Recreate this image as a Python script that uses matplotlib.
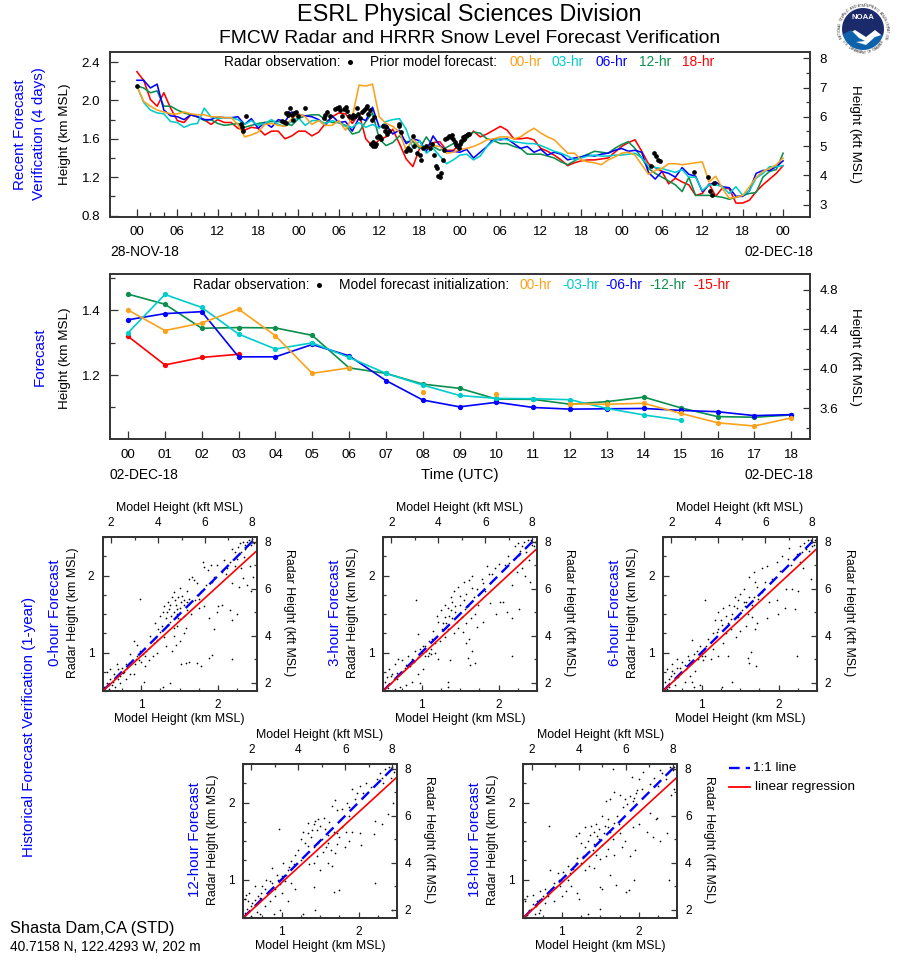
"""FMCW radar and HRRR snow level verification page (Shasta Dam)."""

import numpy as np
import matplotlib
matplotlib.use("Agg")
import matplotlib.pyplot as plt
from matplotlib.patches import Circle, Polygon
from matplotlib.ticker import MultipleLocator, FixedLocator

plt.rcParams["font.family"] = ["Liberation Sans", "DejaVu Sans"]

KM_TO_KFT = 1 / 0.3048
ORANGE, CYAN, BLUE, GREEN, RED = "#FAA21B", "#00CCCC", "#0000FF", "#0B8F4D", "#FF0000"
FRAME = "#333333"

# Recent verification, hourly values (km MSL) over 96 hours
recent_00 = [2.15, 1.99, 1.94, 1.90, 1.88, 1.86, 1.86, 1.88, 1.86, 1.85, 1.85, 1.83,
             1.83, 1.82, 1.82, 1.75, 1.62, 1.64, 1.67, 1.75, 1.76, 1.74, 1.73, 1.81,
             1.86, 1.83, 1.75, 1.79, 1.74, 1.74, 1.79, 1.69, 1.83, 2.16, 2.15, 2.17,
             1.83, 1.76, 1.73, 1.67, 1.48, 1.60, 1.52, 1.50, 1.53, 1.52, 1.45, 1.46,
             1.49, 1.50, 1.52, 1.55, 1.59, 1.60, 1.62, 1.62, 1.60, 1.62, 1.67, 1.71,
             1.66, 1.62, 1.59, 1.52, 1.45, 1.45, 1.38, 1.36, 1.35, 1.33, 1.38, 1.41,
             1.45, 1.46, 1.43, 1.33, 1.23, 1.27, 1.29, 1.34, 1.34, 1.33, 1.34, 1.35,
             1.36, 1.15, 1.21, 1.08, 0.98, 0.99, 1.01, 1.10, 1.20, 1.26, 1.29, 1.33, 1.40]
recent_03 = [2.15, 1.98, 1.90, 1.87, 1.86, 1.78, 1.77, 1.72, 1.75, 1.76, 1.92, 1.83,
             1.81, 1.82, 1.82, 1.80, 1.75, 1.79, 1.74, 1.76, 1.80, 1.75, 1.73, 1.78,
             1.82, 1.74, 1.79, 1.79, 1.76, 1.79, 1.77, 1.73, 1.72, 1.77, 1.72, 1.75,
             1.71, 1.78, 1.80, 1.81, 1.70, 1.50, 1.58, 1.45, 1.50, 1.42, 1.34, 1.38,
             1.43, 1.44, 1.38, 1.42, 1.52, 1.58, 1.60, 1.59, 1.57, 1.56, 1.55, 1.55,
             1.53, 1.50, 1.47, 1.45, 1.42, 1.38, 1.40, 1.42, 1.43, 1.42, 1.42, 1.43,
             1.43, 1.44, 1.45, 1.40, 1.32, 1.30, 1.29, 1.27, 1.25, 1.28, 1.20, 1.20,
             1.06, 1.12, 1.12, 1.10, 1.03, 1.10, 1.01, 1.06, 1.19, 1.24, 1.31, 1.31, 1.32]
recent_06 = [2.21, 2.21, 2.13, 2.17, 1.90, 1.84, 1.83, 1.80, 1.85, 1.83, 1.80, 1.80,
             1.83, 1.82, 1.82, 1.83, 1.75, 1.81, 1.71, 1.77, 1.72, 1.80, 1.78, 1.88,
             1.85, 1.84, 1.83, 1.80, 1.74, 1.84, 1.77, 1.78, 1.68, 1.82, 1.79, 1.93,
             1.72, 1.75, 1.65, 1.69, 1.55, 1.60, 1.58, 1.47, 1.63, 1.53, 1.47, 1.47,
             1.46, 1.49, 1.40, 1.46, 1.52, 1.60, 1.59, 1.60, 1.55, 1.50, 1.52, 1.46,
             1.49, 1.43, 1.46, 1.44, 1.38, 1.40, 1.41, 1.43, 1.42, 1.44, 1.45, 1.48,
             1.50, 1.47, 1.48, 1.46, 1.25, 1.18, 1.26, 1.24, 1.20, 1.30, 1.23, 1.21,
             1.05, 1.12, 1.15, 1.10, 1.09, 1.00, 1.00, 1.06, 1.24, 1.27, 1.27, 1.31, 1.37]
recent_12 = [2.15, 2.13, 2.08, 2.10, 1.94, 1.94, 1.90, 1.87, 1.85, 1.83, 1.79, 1.80,
             1.76, 1.74, 1.75, 1.76, 1.72, 1.74, 1.76, 1.77, 1.78, 1.78, 1.76, 1.74,
             1.81, 1.84, 1.85, 1.85, 1.80, 1.77, 1.77, 1.74, 1.65, 1.67, 1.78, 1.87,
             1.60, 1.53, 1.56, 1.63, 1.57, 1.57, 1.50, 1.62, 1.52, 1.48, 1.51, 1.55,
             1.52, 1.60, 1.67, 1.66, 1.60, 1.58, 1.55, 1.55, 1.52, 1.50, 1.44, 1.44,
             1.44, 1.42, 1.40, 1.36, 1.33, 1.37, 1.41, 1.44, 1.47, 1.46, 1.45, 1.50,
             1.54, 1.57, 1.50, 1.40, 1.29, 1.24, 1.20, 1.16, 1.12, 1.05, 1.20, 1.01,
             1.01, 1.01, 1.00, 0.99, 0.97, 0.99, 1.01, 1.03, 1.04, 1.20, 1.26, 1.28, 1.45]
recent_18 = [2.30, 2.21, 2.01, 1.94, 2.08, 1.92, 1.79, 1.77, 1.85, 1.83, 1.80, 1.75,
             1.80, 1.77, 1.77, 1.71, 1.69, 1.72, 1.71, 1.64, 1.68, 1.68, 1.60, 1.63,
             1.68, 1.68, 1.63, 1.67, 1.76, 1.83, 1.87, 1.86, 1.76, 1.86, 1.60, 1.52,
             1.59, 1.62, 1.70, 1.55, 1.39, 1.31, 1.50, 1.52, 1.56, 1.57, 1.48, 1.48,
             1.54, 1.60, 1.68, 1.62, 1.65, 1.69, 1.73, 1.69, 1.60, 1.60, 1.61, 1.59,
             1.50, 1.47, 1.43, 1.38, 1.32, 1.35, 1.37, 1.38, 1.38, 1.39, 1.40, 1.46,
             1.52, 1.56, 1.59, 1.47, 1.34, 1.30, 1.26, 1.13, 1.19, 1.15, 1.12, 1.01,
             1.03, 1.13, 1.00, 1.09, 1.08, 0.93, 0.93, 0.96, 1.05, 1.12, 1.18, 1.24, 1.32]

# Radar observations (hours since 00 UTC 28-NOV, km MSL)
obs_hour = [0.0, 15.5, 15.6, 15.7, 16.2, 21.5, 21.8, 22.1, 22.2, 22.4, 22.5, 22.7, 23.0, 23.2, 23.4,
            23.7, 24.0, 24.9, 27.8, 28.0, 28.2, 28.7, 29.4, 29.7, 30.0, 30.2, 30.4, 30.8, 31.0, 31.2,
            31.5, 31.9, 32.1, 32.4, 32.7, 32.9, 33.2, 33.5, 33.8, 34.0, 34.2, 34.4, 34.7, 34.9, 35.2,
            34.8, 35.0, 35.1, 35.3, 35.5, 35.6, 35.9, 36.1, 36.3, 36.5, 36.8, 37.0, 37.2, 37.4, 38.9,
            39.0, 39.2, 40.0, 40.3, 40.6, 41.0, 41.2, 41.6, 42.0, 42.2, 42.5, 43.0, 43.5, 43.8, 44.2,
            44.4, 44.6, 44.8, 45.0, 45.2, 45.4, 45.6, 45.8, 46.0, 46.3, 46.6, 46.8, 47.0, 47.2, 47.4,
            47.6, 47.8, 48.0, 48.2, 48.4, 48.6, 48.8, 49.0, 49.2, 49.4, 76.4, 76.8, 77.1, 77.4, 77.7,
            82.7, 84.9, 85.8, 85.2, 85.4]
obs_km = [2.15, 1.75, 1.72, 1.68, 1.84, 1.79, 1.78, 1.76, 1.87, 1.85, 1.87, 1.92, 1.85, 1.80, 1.87,
          1.88, 1.84, 1.92, 1.82, 1.85, 1.88, 1.84, 1.91, 1.92, 1.93, 1.90, 1.84, 1.91, 1.93, 1.89,
          1.84, 1.82, 1.85, 1.84, 1.92, 1.86, 1.82, 1.88, 1.90, 1.92, 1.94, 1.86, 1.90, 1.80, 1.83,
          1.55, 1.53, 1.57, 1.52, 1.55, 1.62, 1.63, 1.62, 1.60, 1.73, 1.68, 1.72, 1.65, 1.68, 1.75,
          1.73, 1.67, 1.47, 1.50, 1.48, 1.63, 1.52, 1.45, 1.43, 1.38, 1.50, 1.52, 1.50, 1.55, 1.43,
          1.32, 1.30, 1.21, 1.20, 1.24, 1.38, 1.48, 1.60, 1.61, 1.63, 1.62, 1.64, 1.60, 1.57, 1.54,
          1.52, 1.50, 1.55, 1.58, 1.62, 1.60, 1.63, 1.64, 1.65, 1.65, 1.32, 1.45, 1.42, 1.38, 1.37,
          1.25, 1.20, 1.14, 1.06, 1.01]
recent_hour_labels = ["00", "06", "12", "18"] * 4 + ["00"]

# 18-hour forecast panel (km MSL); nan where the run has no value
nan = float("nan")
fcst_00 = [1.400, 1.337, 1.360, 1.403, 1.321, 1.205, 1.222, nan, 1.148, nan, 1.142, nan,
           1.111, 1.110, 1.113, 1.082, 1.053, 1.043, 1.068]
fcst_03 = [1.330, 1.448, 1.408, 1.326, 1.280, 1.299, 1.254, 1.205, 1.169, 1.137, 1.128, 1.127,
           1.124, 1.097, 1.077, 1.061, nan, nan, nan]
fcst_06 = [1.370, 1.389, 1.395, 1.256, 1.256, 1.294, 1.259, 1.183, 1.123, 1.102, 1.116, 1.100,
           1.095, 1.096, 1.097, 1.091, 1.087, 1.075, 1.078]
fcst_12 = [1.449, 1.418, 1.344, 1.346, 1.345, 1.322, 1.222, 1.205, 1.172, 1.159, 1.126, 1.125,
           1.110, 1.118, 1.132, 1.099, 1.072, 1.070, 1.077]
fcst_15 = [1.319, 1.231, 1.254, 1.264]
fcst_hour_labels = [f"{h:02d}" for h in range(19)]

# Historical scatter, (model km, radar km)
pts_00 = [(.98, 1.69), (1.80, 2.18), (1.81, 2.11), (1.87, 2.07), (1.90, 2.13), (1.98, 2.14), (2.07, 2.20), (2.05, 2.05),
          (2.12, 2.10), (2.22, 2.12), (2.30, 2.10), (2.32, 1.97), (2.18, 1.90), (2.27, 1.85), (2.38, 1.88), (2.42, 1.80),
          (2.45, 1.98), (2.41, 2.12), (2.35, 2.35), (2.30, 2.30), (2.28, 2.42), (2.38, 2.44), (2.42, 2.40), (2.44, 2.47),
          (2.47, 2.42), (2.35, 2.40), (2.22, 2.30), (2.18, 2.35), (2.26, 2.37), (1.62, 1.96), (1.68, 1.94), (1.72, 1.90),
          (1.66, 1.98), (1.50, 1.84), (1.43, 1.78), (1.48, 1.72), (1.55, 1.68), (1.60, 1.80), (1.62, 1.70), (1.40, 1.72),
          (1.35, 1.66), (1.30, 1.60), (1.36, 1.56), (1.42, 1.52), (1.45, 1.62), (1.50, 1.58), (1.52, 1.66), (1.28, 1.52),
          (1.25, 1.48), (1.32, 1.45), (1.38, 1.40), (1.42, 1.32), (1.48, 1.45), (1.55, 1.48), (1.60, 1.55), (1.65, 1.50),
          (1.75, 1.58), (1.82, 1.60), (1.88, 1.45), (1.95, 1.30), (1.98, 1.52), (2.00, 1.60), (2.05, 1.62), (2.15, 1.55),
          (2.18, 1.42), (2.25, 1.50), (1.72, 1.75), (1.78, 1.80), (1.22, 1.30), (1.18, 1.38), (1.12, 1.22), (1.30, 1.20),
          (1.32, 1.08), (1.40, 1.02), (1.45, 1.10), (1.50, 1.15), (1.42, 1.22), (1.55, 1.25), (1.52, .85), (1.58, .86),
          (1.62, .88), (1.72, .87), (1.78, .83), (1.88, .93), (1.92, .97), (2.18, .92), (1.28, .55), (1.38, .60),
          (.90, 1.15), (.95, 1.10), (.98, 1.02), (.85, .98), (.88, .90), (.92, .85), (1.00, .88), (1.05, .82),
          (1.10, .90), (1.15, .95), (1.20, 1.00), (1.05, .95), (.95, .95), (.80, .85), (.75, .80), (.70, .78),
          (.68, .85), (.72, .70), (.65, .72), (.60, .65), (.62, .58), (.55, .60), (.52, .55), (.58, .52),
          (.66, .55), (.72, .60), (.80, .65), (.85, .72), (.78, .75), (.90, .72), (1.03, .62), (.56, .75), (.60, .78),
          (1.38, 1.62), (1.44, 1.68), (1.47, 1.56), (1.53, 1.74), (1.56, 1.62), (1.33, 1.52), (1.39, 1.48), (1.46, 1.50),
          (1.51, 1.44), (1.34, 1.36), (1.27, 1.34), (1.24, 1.26), (1.20, 1.16), (1.16, 1.12), (1.10, 1.06), (1.06, 1.02),
          (1.02, .98), (.97, .90), (.93, .92), (.84, .86), (.82, .80), (.76, .74), (.70, .66), (.64, .62), (.58, .58),
          (1.60, 1.66), (1.70, 1.68), (1.75, 1.70), (1.84, 1.88), (1.92, 1.92), (1.95, 1.98), (2.10, 2.02), (2.15, 2.18),
          (2.25, 2.22), (2.33, 2.24), (2.38, 2.38), (2.45, 2.44), (2.40, 2.46), (2.32, 2.44), (1.46, 1.35), (1.58, 1.32)]
pts_03 = [(.93, 1.68), (2.18, .95), (1.63, .84), (1.69, .86), (1.60, .93), (1.65, 1.02), (1.58, 1.12), (1.62, 1.18),
          (1.37, .90), (1.35, .62), (1.34, .55), (2.17, 1.45), (2.27, 1.56), (2.11, 1.53), (2.06, 1.66), (2.02, 1.66),
          (1.89, 1.64), (1.97, 1.50), (2.41, 1.92), (2.35, 2.00), (2.30, 2.10), (2.18, 1.88), (2.24, 2.05), (2.40, 2.20),
          (2.28, 2.32), (2.22, 2.38), (2.33, 2.44), (2.38, 2.46), (2.44, 2.40), (2.47, 2.44), (2.30, 2.38), (2.36, 2.30),
          (2.12, 2.25), (2.08, 2.13), (2.00, 2.15), (1.85, 2.12), (1.88, 2.02), (1.80, 1.90), (1.78, 1.96), (1.65, 2.00),
          (1.62, 1.94), (1.55, 1.92), (1.48, 1.85), (1.42, 1.80), (1.38, 1.72), (1.40, 1.65), (1.44, 1.60), (1.50, 1.74),
          (1.55, 1.68), (1.60, 1.60), (1.68, 1.72), (1.74, 1.62), (1.70, 1.50), (1.64, 1.45), (1.58, 1.38), (1.72, 1.33),
          (1.80, 1.40), (1.52, 1.46), (1.46, 1.40), (1.38, 1.55), (1.30, 1.62), (1.25, 1.55), (1.20, 1.48), (1.22, 1.40),
          (1.28, 1.38), (1.35, 1.30), (1.42, 1.25), (1.30, 1.20), (1.24, 1.15), (1.15, 1.28), (1.10, 1.15), (1.05, 1.08),
          (.95, 1.24), (1.00, 1.00), (1.08, .96), (1.12, 1.05), (1.18, 1.00), (1.22, .92), (.92, 1.02), (.88, .92),
          (.82, .95), (.75, .90), (.70, .92), (.66, .85), (.78, .80), (.85, .82), (.95, .72), (1.02, .78),
          (.62, .72), (.58, .78), (.55, .68), (.52, .62), (.60, .60), (.68, .65), (.72, .55), (.80, .58),
          (.88, .62), (.98, .60), (.56, .54), (.65, .52),
          (1.34, 1.58), (1.36, 1.48), (1.32, 1.38), (1.40, 1.45), (1.44, 1.52), (1.30, 1.46), (1.26, 1.30), (1.20, 1.22),
          (1.18, 1.12), (1.14, 1.18), (1.12, .98), (1.06, 1.02), (1.02, 1.08), (.98, 1.05), (1.04, .95), (1.10, 1.00),
          (.96, .94), (.90, .88), (.86, .88), (.80, .84), (.76, .76), (.72, .72), (.68, .74), (.64, .66), (.60, .70),
          (1.58, 1.76), (1.66, 1.84), (1.50, 1.62), (1.56, 1.56), (1.72, 1.82), (1.82, 1.80), (1.92, 2.02), (1.96, 2.10),
          (2.14, 2.16), (2.26, 2.26), (2.35, 2.36), (2.42, 2.46), (2.46, 2.38), (2.25, 2.42), (1.48, 1.32), (1.54, 1.26)]
pts_06 = [(1.05, 1.68), (2.24, .95), (1.71, .83), (1.62, .86), (1.60, .93), (1.64, 1.01), (1.40, .62), (1.26, .55),
          (.88, 1.16), (2.21, 1.56), (1.99, 1.50), (1.85, 1.45), (2.08, 1.58), (1.88, 1.65), (1.98, 1.68), (2.18, 1.82),
          (2.25, 1.80), (2.10, 1.82), (2.42, 1.96), (2.32, 2.10), (2.28, 2.18), (2.12, 2.22), (2.05, 2.25), (1.98, 2.18),
          (1.85, 2.12), (1.78, 2.10), (1.68, 2.05), (1.62, 1.98), (1.70, 1.92), (1.78, 1.78), (1.72, 1.85), (2.28, 2.38),
          (2.33, 2.42), (2.38, 2.46), (2.44, 2.38), (2.47, 2.46), (2.40, 2.32), (2.30, 2.30), (2.14, 2.36), (1.55, 1.82),
          (1.50, 1.76), (1.48, 1.68), (1.55, 1.66), (1.62, 1.72), (1.42, 1.60), (1.36, 1.62), (1.28, 1.58), (1.22, 1.52),
          (1.18, 1.42), (1.25, 1.42), (1.32, 1.48), (1.40, 1.50), (1.52, 1.55), (1.60, 1.50), (1.66, 1.46), (1.72, 1.38),
          (1.70, 1.30), (1.58, 1.35), (1.50, 1.28), (1.45, 1.20), (1.38, 1.30), (1.32, 1.25), (1.22, 1.30), (1.15, 1.25),
          (1.08, 1.18), (.98, 1.08), (1.05, 1.02), (1.15, 1.05), (1.12, .92), (1.22, .96), (1.35, .95), (1.28, 1.12),
          (1.02, .90), (.95, .92), (.90, .98), (.82, .95), (.75, .88), (.68, .92), (.62, .85), (.55, .78),
          (.72, .80), (.80, .78), (.85, .70), (.92, .76), (.88, .62), (.78, .62), (.70, .68), (.60, .70),
          (.52, .62), (.58, .55), (.66, .58), (.98, .58), (.90, .55), (.55, .52), (.64, .74), (1.00, 1.00),
          (1.44, 1.72), (1.46, 1.58), (1.38, 1.44), (1.48, 1.46), (1.56, 1.60), (1.34, 1.38), (1.27, 1.36), (1.20, 1.26),
          (1.12, 1.14), (1.06, 1.08), (1.04, .96), (1.00, .95), (.94, 1.02), (.88, .86), (.84, .90), (.78, .84), (.74, .74),
          (.68, .80), (.64, .64), (.58, .66), (.62, .76), (1.58, 1.66), (1.68, 1.72), (1.74, 1.70), (1.66, 1.62),
          (1.82, 1.92), (1.92, 1.96), (2.02, 2.06), (2.16, 2.14), (2.24, 2.28), (2.36, 2.34), (2.46, 2.40), (2.42, 2.46)]
pts_12 = [(.97, 1.66), (2.21, .95), (1.68, .84), (1.75, .86), (1.42, .90), (1.44, .61), (.88, 1.15), (2.20, 1.59),
          (2.03, 1.45), (2.43, .61), (1.70, 2.03), (1.65, 1.96), (1.72, 1.90), (1.85, 2.00), (1.92, 2.18), (1.88, 1.82),
          (2.02, 2.22), (2.10, 2.25), (1.98, 2.12), (2.24, 2.30), (2.28, 2.38), (2.35, 2.44), (2.40, 2.46), (2.46, 2.40),
          (2.42, 2.32), (2.32, 2.25), (2.38, 1.85), (2.30, 1.72), (2.22, 1.76), (2.45, 2.00), (2.02, 1.60), (1.92, 1.62),
          (1.88, 1.50), (1.82, 1.42), (1.72, 1.46), (1.75, 1.55), (1.68, 1.62), (1.62, 1.75), (1.55, 1.80), (1.48, 1.78),
          (1.42, 1.72), (1.35, 1.74), (1.28, 1.62), (1.25, 1.52), (1.30, 1.48), (1.38, 1.55), (1.46, 1.64), (1.52, 1.52),
          (1.58, 1.42), (1.64, 1.38), (1.70, 1.34), (1.60, 1.22), (1.66, 1.18), (1.50, 1.12), (1.42, 1.22), (1.36, 1.20),
          (1.25, 1.25), (1.18, 1.32), (1.12, 1.24), (1.02, 1.22), (1.08, 1.12), (1.00, 1.05), (.95, 1.00), (1.05, .98),
          (1.12, .95), (1.18, .88), (.92, .88), (.85, .98), (.80, 1.00), (.75, .92), (.70, .78), (.65, .92),
          (.58, .82), (.52, .75), (.55, .62), (.62, .70), (.68, .58), (.78, .65), (.85, .72), (.92, .78),
          (1.00, .82), (.98, .60), (.90, .55), (.72, .55), (.60, .53), (.52, .56), (1.28, .55), (1.08, .72),
          (1.40, 1.64), (1.44, 1.76), (1.34, 1.60), (1.50, 1.70), (1.56, 1.66), (1.60, 1.58), (1.48, 1.48), (1.42, 1.42),
          (1.34, 1.44), (1.22, 1.38), (1.16, 1.20), (1.10, 1.16), (1.06, 1.06), (1.02, 1.00), (.98, .94), (.94, 1.06),
          (.88, .96), (.84, .84), (.78, .88), (.74, .82), (.72, .76), (.66, .74), (.60, .66), (.56, .72), (.54, .80),
          (1.78, 1.92), (1.88, 1.94), (1.96, 2.04), (2.06, 2.12), (2.16, 2.20), (2.30, 2.32), (2.38, 2.40), (2.44, 2.46),
          (1.78, 1.68), (1.84, 1.62), (1.72, 1.60), (1.60, 1.48), (1.54, 1.36), (1.46, 1.30)]
pts_18 = [(.83, 1.69), (1.67, 2.43), (2.39, .99), (1.94, .99), (1.84, .84), (1.87, .86), (1.50, .90), (1.52, .88),
          (1.70, .93), (1.62, 1.06), (1.49, .62), (1.34, .55), (2.36, 1.60), (2.27, 1.50), (2.23, 1.80), (2.15, 1.86),
          (2.22, 1.78), (1.91, 2.33), (2.05, 2.40), (2.00, 2.30), (1.96, 2.12), (1.88, 2.08), (1.92, 2.02), (1.98, 2.16),
          (1.75, 2.10), (1.68, 2.14), (1.62, 2.05), (1.58, 2.02), (1.85, 1.98), (1.80, 1.94), (1.92, 1.68), (2.00, 1.72),
          (2.10, 1.62), (2.18, 1.55), (1.72, 1.82), (1.68, 1.74), (1.60, 1.78), (1.52, 1.82), (1.45, 1.72), (1.48, 1.65),
          (1.55, 1.60), (1.62, 1.62), (1.38, 1.70), (1.30, 1.68), (1.22, 1.60), (1.18, 1.56), (1.25, 1.48), (1.30, 1.42),
          (1.40, 1.38), (1.52, 1.45), (1.60, 1.40), (1.68, 1.32), (1.78, 1.42), (1.88, 1.30), (1.95, 1.38), (1.82, 1.50),
          (2.40, 2.46), (2.45, 2.42), (2.30, 2.38), (2.35, 2.30), (2.46, 2.18), (2.42, 2.10), (2.25, 2.22), (1.25, 1.22),
          (1.35, 1.18), (1.42, 1.15), (1.30, 1.12), (1.18, 1.22), (1.08, 1.18), (1.02, 1.10), (.95, 1.08), (1.08, 1.00),
          (1.12, .92), (1.05, .85), (.98, .92), (.90, .96), (.85, 1.12), (1.00, .78), (.90, .72), (.82, .78),
          (.78, .88), (.72, .85), (.62, .80), (.55, .78), (.52, .72), (.68, .72), (.60, .62), (.70, .56),
          (.72, .60), (.65, .55), (.55, .54), (.52, .52), (1.22, .75), (1.20, .82),
          (1.42, 1.62), (1.36, 1.58), (1.46, 1.56), (1.34, 1.50), (1.42, 1.46), (1.48, 1.52), (1.56, 1.70), (1.60, 1.68),
          (1.28, 1.30), (1.20, 1.28), (1.14, 1.14), (1.10, 1.08), (1.04, 1.04), (1.00, .98), (.96, 1.00), (.92, .90),
          (.86, .88), (.82, .84), (.76, .78), (.70, .74), (.66, .66), (.58, .60), (.62, .68), (.78, .70),
          (1.82, 2.04), (1.94, 2.06), (2.04, 2.18), (2.14, 2.24), (2.20, 2.32), (2.28, 2.42), (2.38, 2.38), (2.46, 2.46),
          (1.74, 1.72), (1.76, 1.60), (1.66, 1.52), (1.58, 1.30), (1.50, 1.26), (1.44, 1.32)]
# Right-edge height of each linear regression (km, at model 2.5 km)
reg_end_00, reg_end_03, reg_end_06, reg_end_12, reg_end_18 = 2.32, 2.35, 2.35, 2.33, 2.33

fig = plt.figure(figsize=(8.98, 9.56), dpi=100)


def box(left, top, right, bottom):
    """Axes from page pixels."""
    return fig.add_axes([left / 898, 1 - bottom / 956, (right - left) / 898, (bottom - top) / 956])


# Page layer for free text, measured in pixels from the top left
page = fig.add_axes([0, 0, 1, 1], zorder=5)
page.set_xlim(0, 898)
page.set_ylim(956, 0)
page.axis("off")


def put(x, y, s, size=10, color="black", ha="left", rotation=0):
    page.text(x, y, s, fontsize=size, color=color, ha=ha, va="center", rotation=rotation,
              rotation_mode="anchor" if rotation == 0 else "default")


def style(ax, ticksize, major, minor):
    for sp in ax.spines.values():
        sp.set_linewidth(1.2)
        sp.set_color(FRAME)
    ax.tick_params(which="major", direction="in", length=major, width=0.9, color=FRAME, labelsize=ticksize)
    ax.tick_params(which="minor", direction="in", length=minor, width=0.9, color=FRAME)
    ax.patch.set_alpha(0)


def long_panel(ax, ylim, ymaj, ymin, kmaj, kmin):
    ax.set_ylim(*ylim)
    ax.yaxis.set_major_locator(MultipleLocator(ymaj))
    ax.yaxis.set_minor_locator(MultipleLocator(ymin))
    ax.yaxis.set_major_formatter("{x:.1f}")
    right = ax.twinx()
    right.set_ylim(ylim[0] * KM_TO_KFT, ylim[1] * KM_TO_KFT)
    right.yaxis.set_major_locator(MultipleLocator(kmaj))
    right.yaxis.set_minor_locator(MultipleLocator(kmin))
    style(ax, 9.6, 5.8, 3.6)
    style(right, 9.6, 5.2, 3)
    ax.tick_params(axis="y", which="major", pad=7)
    ax.tick_params(axis="x", which="major", pad=7)
    right.tick_params(axis="y", which="major", pad=7)
    return right


# Recent verification
ax1 = box(110, 52, 810, 216.5)
hours = np.arange(97)
for series, c in [(recent_18, RED), (recent_12, GREEN), (recent_06, BLUE), (recent_03, CYAN), (recent_00, ORANGE)]:
    ax1.plot(hours, series, color=c, linewidth=1.15, zorder=3)
ax1.plot(obs_hour, obs_km, "o", color="black", markersize=3.4, markeredgewidth=0, zorder=4)
ax1.set_xlim(-4, 100)
ax1.set_xticks(hours[::6], recent_hour_labels)
ax1.set_xticks(hours[::2], minor=True)
long_panel(ax1, (0.79, 2.505), 0.4, 0.2, 1, 0.5)

# 18-hour forecast
ax2 = box(110, 274, 810, 439)
fcst_hours = np.arange(19)
for series, c in [(fcst_15, RED), (fcst_12, GREEN), (fcst_06, BLUE), (fcst_03, CYAN), (fcst_00, ORANGE)]:
    ax2.plot(fcst_hours[:len(series)], series, "-o", color=c, linewidth=1.2, markersize=3.8,
             markeredgewidth=0, zorder=3)
ax2.set_xlim(-0.49, 18.51)
ax2.set_xticks(fcst_hours, fcst_hour_labels)
long_panel(ax2, (1.003, 1.511), 0.2, 0.1, 0.4, 0.2)


def scatter_panel(left, top, pts, reg_end):
    ax = box(left, top, left + 154, top + 154)
    x, y = np.array(pts).T
    ax.scatter(x, y, s=1.5, color="black", linewidths=0, zorder=2)
    ax.plot([0.5, 2.5], [0.5, 2.5], color=BLUE, linewidth=1.7, dashes=(4.5, 2.6), zorder=3)
    ax.plot([0.5, 2.5], [0.5, reg_end], color=RED, linewidth=1.2, zorder=4)
    ax.set_xlim(0.5, 2.5)
    ax.set_ylim(0.5, 2.5)
    for axis in (ax.xaxis, ax.yaxis):
        axis.set_major_locator(FixedLocator([1, 2]))
        axis.set_minor_locator(MultipleLocator(0.25))
    top_ax = ax.twiny()
    right_ax = ax.twinx()
    top_ax.set_xlim(0.5 * KM_TO_KFT, 2.5 * KM_TO_KFT)
    right_ax.set_ylim(0.5 * KM_TO_KFT, 2.5 * KM_TO_KFT)
    for axis in (top_ax.xaxis, right_ax.yaxis):
        axis.set_major_locator(FixedLocator([2, 4, 6, 8]))
        axis.set_minor_locator(MultipleLocator(1))
    style(ax, 8.6, 4, 2.4)
    style(top_ax, 8.6, 4, 2.4)
    style(right_ax, 8.6, 4, 2.4)
    ax.tick_params(axis="both", which="major", pad=6)
    top_ax.tick_params(axis="x", which="major", pad=5.5)
    right_ax.tick_params(axis="y", which="major", pad=5.5)
    mid = left + 77
    put(mid, top - 29, "Model Height (kft MSL)", 8.9, ha="center")
    put(mid, top + 182, "Model Height (km MSL)", 8.9, ha="center")
    put(left - 30, top + 76, "Radar Height (km MSL)", 8.9, ha="center", rotation=90)
    put(left + 186, top + 76, "Radar Height (kft MSL)", 8.9, ha="center", rotation=270)
    return ax


panels = [(102.7, 537, pts_00, reg_end_00, "0-hour Forecast"),
          (383, 537, pts_03, reg_end_03, "3-hour Forecast"),
          (663, 537, pts_06, reg_end_06, "6-hour Forecast"),
          (243, 764, pts_12, reg_end_12, "12-hour Forecast"),
          (523.3, 764, pts_18, reg_end_18, "18-hour Forecast")]
for left, top, pts, reg_end, name in panels:
    scatter_panel(left, top, pts, reg_end)
    put(left - 48, top + 76, name, 10.9, color=BLUE, ha="center", rotation=90)

# Titles and labels
put(469.5, 14, "ESRL Physical Sciences Division", 16.8, ha="center")
put(469.5, 38.5, "FMCW Radar and HRRR Snow Level Forecast Verification", 13.9, ha="center")
put(224, 62, "Radar observation:", 9.9)
put(370, 62, "Prior model forecast:", 9.9)
for x, name, c in [(509, "00-hr", ORANGE), (552, "03-hr", CYAN), (595, "06-hr", BLUE), (639, "12-hr", GREEN), (682, "18-hr", RED)]:
    put(x, 62, name, 9.9, color=c)
page.plot([350], [62], "o", color="black", markersize=3.6, markeredgewidth=0)
put(20, 135, "Recent Forecast", 10.9, color=BLUE, ha="center", rotation=90)
put(39, 134, "Verification (4 days)", 10.9, color=BLUE, ha="center", rotation=90)
put(65, 134, "Height (km MSL)", 9.7, ha="center", rotation=90)
put(855, 134, "Height (kft MSL)", 9.7, ha="center", rotation=270)
put(110, 252, "28-NOV-18", 9.9)
put(813, 252, "02-DEC-18", 9.9, ha="right")

put(193, 285, "Radar observation:", 9.9)
put(339, 285, "Model forecast initialization:", 9.9)
for x, name, c in [(519, "00-hr", ORANGE), (562, "-03-hr", CYAN), (605, "-06-hr", BLUE), (649, "-12-hr", GREEN), (693, "-15-hr", RED)]:
    put(x, 285, name, 9.9, color=c)
page.plot([319], [285], "o", color="black", markersize=3.6, markeredgewidth=0)
put(40, 357, "Forecast", 10.9, color=BLUE, ha="center", rotation=90)
put(65, 358, "Height (km MSL)", 9.7, ha="center", rotation=90)
put(855, 357, "Height (kft MSL)", 9.7, ha="center", rotation=270)
put(110, 475, "02-DEC-18", 9.9)
put(813, 475, "02-DEC-18", 9.9, ha="right")
put(460, 475, "Time (UTC)", 10.7, ha="center")

put(29, 727, "Historical Forecast Verification (1-year)", 10.9, color=BLUE, ha="center", rotation=90)
put(10, 928, "Shasta Dam,CA (STD)", 11.8)
put(10, 947, "40.7158 N, 122.4293 W, 202 m", 9.9)

# Scatter legend
page.plot([729, 750], [768, 768], color=BLUE, linewidth=1.7, dashes=(4.5, 2.6))
put(753, 768, "1:1 line", 9.6)
page.plot([729, 750], [787, 787], color=RED, linewidth=1.3)
put(755, 787, "linear regression", 9.7)

# NOAA logo
cx, cy = 863, 29
page.add_patch(Circle((cx, cy), 21, color="white", zorder=1))


def arc(a0, a1):
    t = np.radians(np.linspace(a0, a1, 30))
    return np.column_stack([cx + 21 * np.cos(t), cy - 21 * np.sin(t)])


navy = np.vstack([arc(200, -20), [(cx + 12, cy + 1), (cx + 3, cy + 8), (cx - 8, cy + 1)]])
sea = np.vstack([arc(195, 345)[::1], [(cx + 12, cy + 8), (cx + 3, cy + 16), (cx - 7, cy + 13), (cx + 2, cy + 12),
                                       (cx - 4, cy + 9), (cx - 12, cy + 1)]])
page.add_patch(Polygon(navy, closed=True, color="#1B2A6B", linewidth=0, zorder=2))
page.add_patch(Polygon(sea, closed=True, color="#0E62AC", linewidth=0, zorder=2))
page.text(cx, cy - 12, "NOAA", color="white", fontsize=5.6, fontweight="bold", ha="center", va="center", zorder=3)
ring_top = "NATIONAL OCEANIC AND ATMOSPHERIC ADMINISTRATION"
for i, ch in enumerate(ring_top):
    a = np.radians(200 - i * 220 / (len(ring_top) - 1))
    page.text(cx + 23.5 * np.cos(a), cy - 23.5 * np.sin(a), ch, fontsize=2.4, color="#333333", ha="center",
              va="center", rotation=np.degrees(a) - 90)
ring_low = "U.S. DEPARTMENT OF COMMERCE"
for i, ch in enumerate(ring_low):
    a = np.radians(212 + i * 116 / (len(ring_low) - 1))
    page.text(cx + 23.5 * np.cos(a), cy - 23.5 * np.sin(a), ch, fontsize=2.4, color="#333333", ha="center",
              va="center", rotation=np.degrees(a) + 90)

fig.savefig("out.png", dpi=100)
